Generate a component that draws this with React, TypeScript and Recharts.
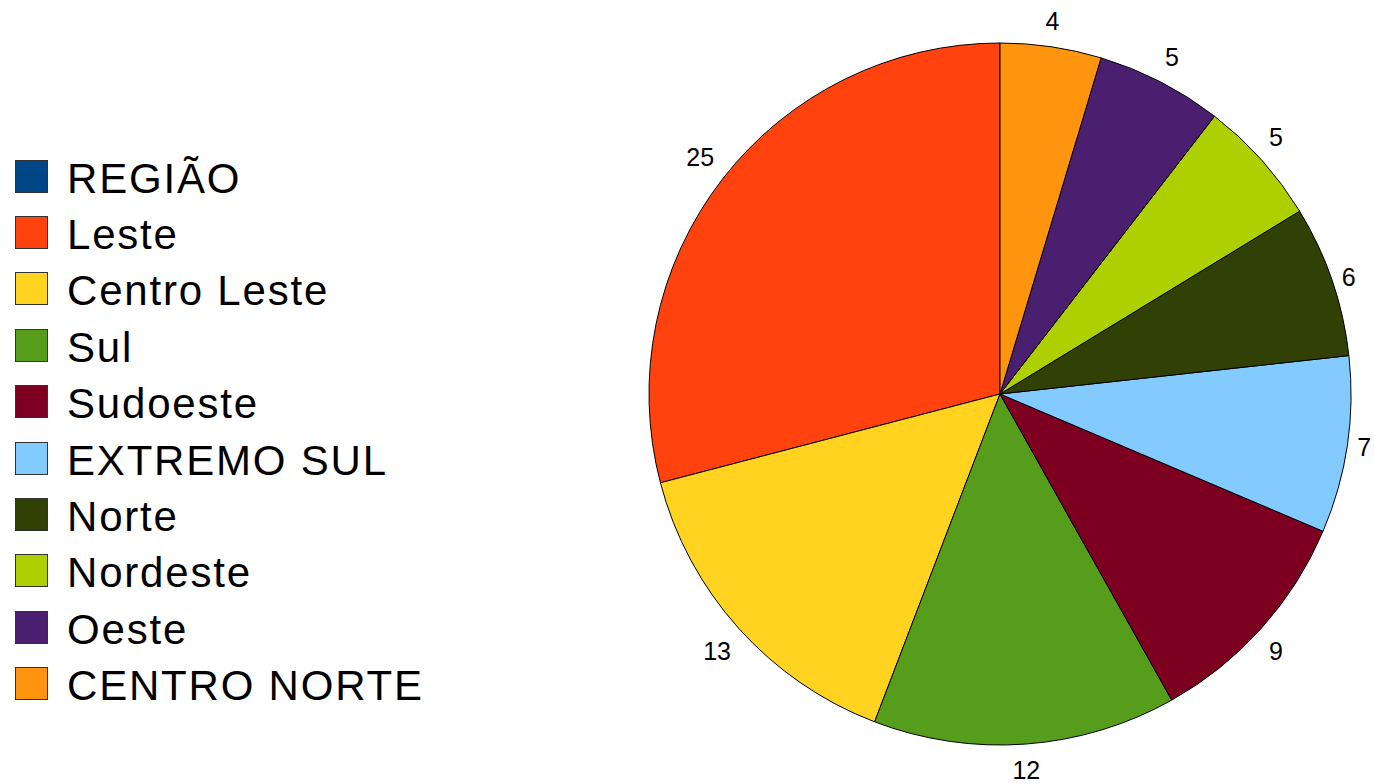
import { PieChart, Pie, Cell, Legend } from "recharts";

// slices, in the order they are drawn (counter-clockwise from the top)
const regions = ["Leste", "Centro Leste", "Sul", "Sudoeste", "EXTREMO SUL", "Norte", "Nordeste", "Oeste", "CENTRO NORTE"];
const counts = [25, 13, 12, 9, 7, 6, 5, 5, 4];
const sliceColors = ["#ff420e", "#ffd320", "#579d1c", "#7e0021", "#83caff", "#314004", "#aecf00", "#4b1f6f", "#ff950e"];

// legend also lists the header entry
const legendNames = ["REGIÃO", ...regions];
const legendColors = ["#004586", ...sliceColors];

const data = regions.map((name, i) => ({ name, value: counts[i] }));

const RAD = Math.PI / 180;
const LEGEND_W = 460;
const OCT = Math.sin(22.5 * RAD);

// anchor just outside the rim, box aligned by octant (like the office chart)
function renderLabel(props: any) {
  const { cx, cy, midAngle, outerRadius, value } = props;
  const text = String(value);
  const halfW = text.length * 7;
  const halfH = 16;
  const c = Math.cos(midAngle * RAD);
  const s = Math.sin(midAngle * RAD);
  const sx = Math.abs(c) < OCT ? 0 : Math.sign(c);
  const sy = Math.abs(s) < OCT ? 0 : Math.sign(s);
  const r = outerRadius + 10;
  return (
    <text
      x={cx + r * c + sx * halfW}
      y={cy - r * s - sy * halfH}
      textAnchor="middle"
      dominantBaseline="central"
      fontSize={25}
      fontFamily="'Liberation Sans', Arial, sans-serif"
      fill="#000"
    >
      {text}
    </text>
  );
}

function renderLegend() {
  return (
    <div style={{ fontFamily: "'Liberation Sans', Arial, sans-serif" }}>
      {legendNames.map((name, i) => (
        <div key={name} style={{ height: 56.4, display: "flex", alignItems: "center" }}>
          <div
            style={{
              width: 33,
              height: 33,
              boxSizing: "border-box",
              background: legendColors[i],
              border: "1px solid #333",
              marginLeft: 15,
            }}
          />
          <span style={{ marginLeft: 19, fontSize: 42, letterSpacing: 1.8, color: "#000", paddingTop: 5, whiteSpace: "nowrap" }}>
            {name}
          </span>
        </div>
      ))}
    </div>
  );
}

export default function App() {
  return (
    <div style={{ position: "absolute", left: 0, top: 0, width: 1374, height: 784, background: "#fff" }}>
      <PieChart width={1374} height={784} margin={{ top: 0, right: 0, bottom: 0, left: 0 }}>
        <Legend
          layout="vertical"
          align="left"
          verticalAlign="top"
          content={renderLegend}
          wrapperStyle={{ left: 0, top: 148, width: LEGEND_W }}
        />
        <Pie
          data={data}
          dataKey="value"
          nameKey="name"
          cx={1000 - LEGEND_W}
          cy={394}
          outerRadius={351}
          startAngle={90}
          endAngle={450}
          stroke="#000"
          strokeWidth={1}
          label={renderLabel}
          labelLine={false}
          isAnimationActive={false}
        >
          {data.map((d, i) => (
            <Cell key={d.name} fill={sliceColors[i]} />
          ))}
        </Pie>
      </PieChart>
    </div>
  );
}
